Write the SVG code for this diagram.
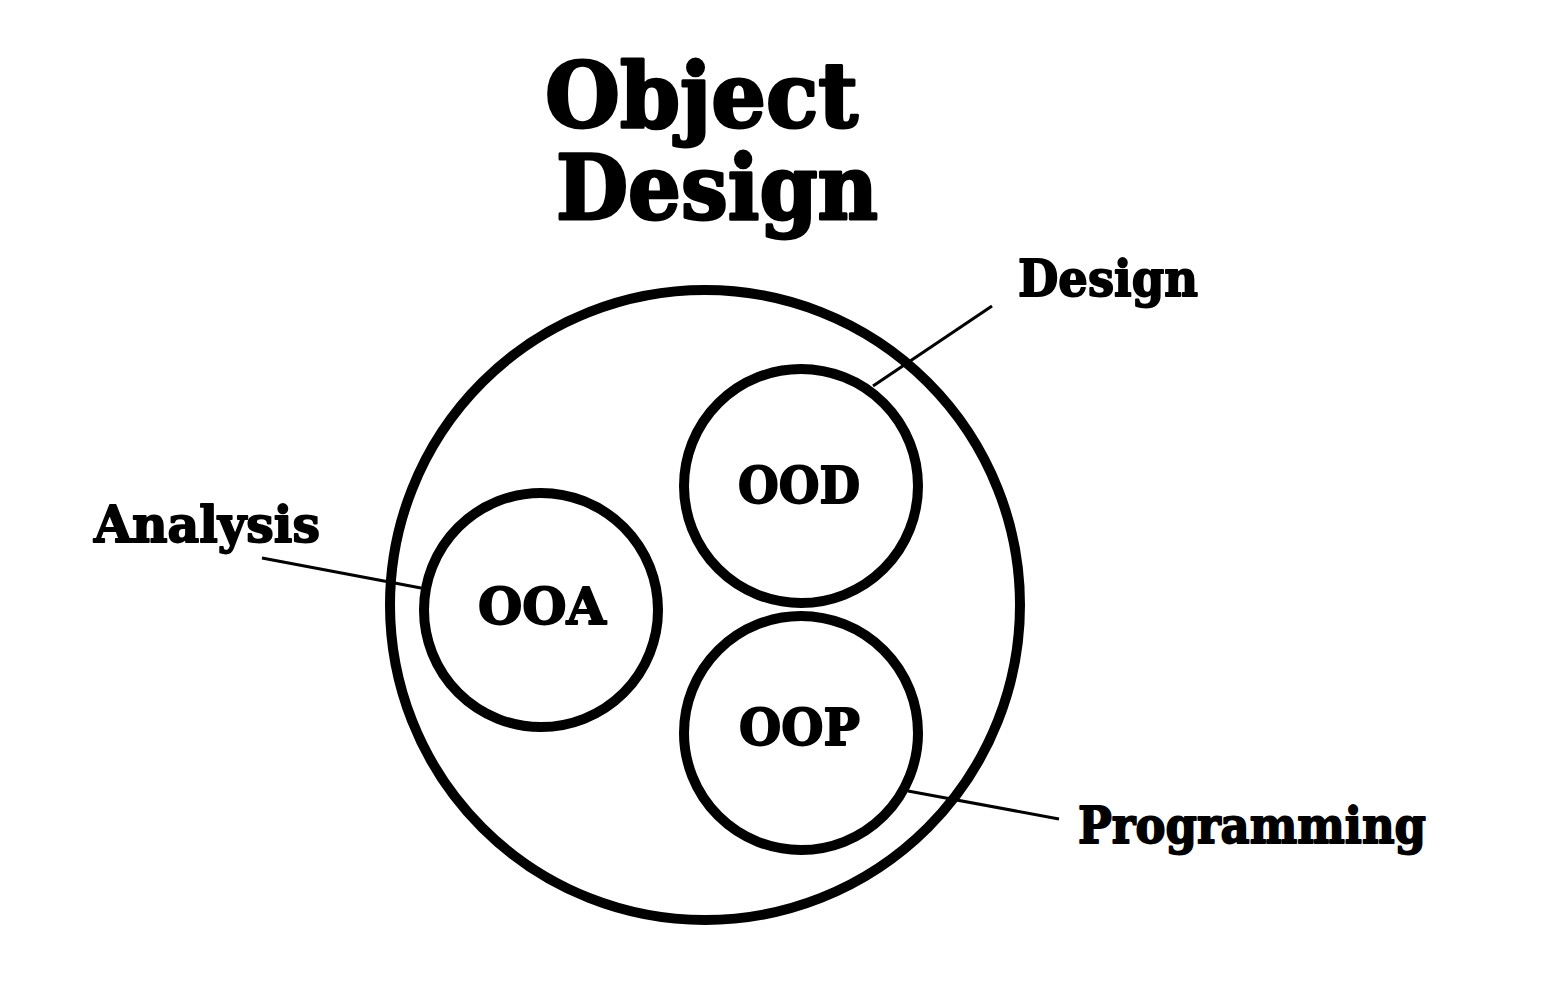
<svg xmlns="http://www.w3.org/2000/svg" width="1562" height="990" viewBox="0 0 1562 990">
<style>
.c{fill:none;stroke:#000;stroke-width:10}
.l{stroke:#000;stroke-width:3;fill:none}
text{font-family:"DejaVu Serif","Liberation Serif",serif;font-weight:bold;fill:#000;stroke:#000;stroke-linejoin:round}
.t{font-size:90px;stroke-width:3}
.m{font-size:50px;stroke-width:1.8}
</style>
<rect width="1562" height="990" fill="#fff"/>
<g id="title">
<text class="t" x="545" y="127" textLength="313" lengthAdjust="spacingAndGlyphs">Object</text>
<text class="t" x="556" y="219" textLength="322" lengthAdjust="spacingAndGlyphs">Design</text>
</g>
<g id="outer"><circle class="c" cx="705" cy="605" r="315"/></g>
<g id="ooa"><circle class="c" cx="541" cy="610" r="117"/><text class="m" x="478" y="624" textLength="128" lengthAdjust="spacingAndGlyphs">OOA</text></g>
<g id="ood"><circle class="c" cx="801" cy="486" r="117"/><text class="m" x="738" y="503" textLength="122" lengthAdjust="spacingAndGlyphs">OOD</text></g>
<g id="oop"><circle class="c" cx="801" cy="733" r="117"/><text class="m" x="739" y="745" textLength="121" lengthAdjust="spacingAndGlyphs">OOP</text></g>
<g id="connectors">
<line class="l" x1="262" y1="558" x2="421" y2="588"/>
<line class="l" x1="992" y1="306" x2="873" y2="386"/>
<line class="l" x1="908" y1="791" x2="1059" y2="819"/>
</g>
<g id="label-analysis"><text class="m" x="94" y="542" textLength="226" lengthAdjust="spacingAndGlyphs">Analysis</text></g>
<g id="label-design"><text class="m" x="1018" y="296" textLength="180" lengthAdjust="spacingAndGlyphs">Design</text></g>
<g id="label-programming"><text class="m" x="1078" y="843" textLength="348" lengthAdjust="spacingAndGlyphs">Programming</text></g>
</svg>
